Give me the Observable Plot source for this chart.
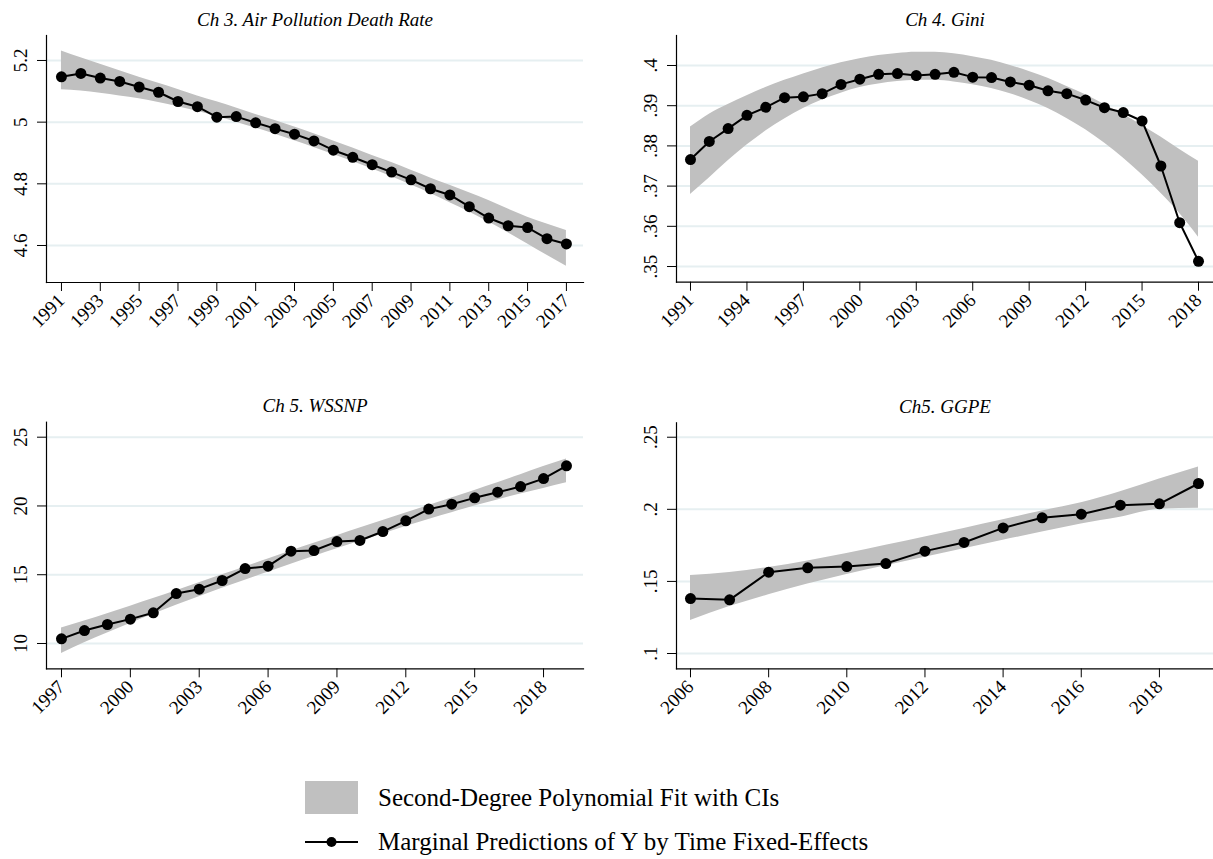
<!DOCTYPE html>
<html>
<head>
<meta charset="utf-8">
<script src="https://cdn.jsdelivr.net/npm/d3@7"></script>
<script src="https://cdn.jsdelivr.net/npm/@observablehq/plot@0.6"></script>
<style>
  html, body { margin: 0; padding: 0; background: #fff; }
  #root { position: relative; width: 1213px; height: 859px; overflow: hidden; background: #fff; font-family: "Liberation Serif", "Times New Roman", serif; }
  .panel { position: absolute; }
  .legend-row { position: absolute; left: 300px; height: 40px; display: flex; align-items: center; font-size: 25px; color: #000; }
</style>
</head>
<body>
<div id="root"></div>
<script>
// ---------------- Data ----------------
// Ch 3. Air Pollution Death Rate
const airYears = [1991,1992,1993,1994,1995,1996,1997,1998,1999,2000,2001,2002,2003,2004,2005,2006,2007,2008,2009,2010,2011,2012,2013,2014,2015,2016,2017];
const airValues = [5.147,5.158,5.143,5.132,5.114,5.097,5.067,5.050,5.016,5.018,4.998,4.979,4.961,4.939,4.909,4.886,4.862,4.838,4.813,4.784,4.764,4.726,4.689,4.664,4.658,4.622,4.605];
const airLo = [5.105,5.101,5.094,5.085,5.076,5.064,5.050,5.035,5.018,5.000,4.981,4.961,4.940,4.918,4.895,4.872,4.848,4.823,4.796,4.769,4.739,4.709,4.676,4.641,4.605,4.568,4.533];
const airHi = [5.231,5.209,5.188,5.167,5.146,5.126,5.106,5.085,5.066,5.046,5.025,5.005,4.984,4.962,4.939,4.916,4.892,4.869,4.844,4.819,4.795,4.771,4.746,4.718,4.692,4.670,4.649];
const airXTicks = [1991,1993,1995,1997,1999,2001,2003,2005,2007,2009,2011,2013,2015,2017];
const airYTicks = [4.6,4.8,5,5.2];

// Ch 4. Gini
const giniYears = [1991,1992,1993,1994,1995,1996,1997,1998,1999,2000,2001,2002,2003,2004,2005,2006,2007,2008,2009,2010,2011,2012,2013,2014,2015,2016,2017,2018];
const giniValues = [0.3766,0.3811,0.3843,0.3876,0.3896,0.3920,0.3922,0.3930,0.3953,0.3966,0.3978,0.3980,0.3975,0.3978,0.3983,0.3971,0.3970,0.3959,0.3951,0.3937,0.3930,0.3914,0.3895,0.3883,0.3862,0.3750,0.3609,0.3513];
const giniLo = [0.3679,0.3720,0.3763,0.3802,0.3837,0.3867,0.3893,0.3914,0.3931,0.3945,0.3954,0.3960,0.3963,0.3963,0.3959,0.3952,0.3943,0.3930,0.3913,0.3893,0.3868,0.3840,0.3807,0.3770,0.3728,0.3682,0.3632,0.3573];
const giniHi = [0.3847,0.3879,0.3903,0.3925,0.3945,0.3963,0.3979,0.3994,0.4007,0.4017,0.4025,0.4030,0.4033,0.4033,0.4029,0.4022,0.4013,0.4000,0.3985,0.3968,0.3948,0.3927,0.3903,0.3878,0.3851,0.3822,0.3791,0.3762];
const giniXTicks = [1991,1994,1997,2000,2003,2006,2009,2012,2015,2018];
const giniYTicks = [0.35,0.36,0.37,0.38,0.39,0.4];

// Ch 5. WSSNP
const wssYears = [1997,1998,1999,2000,2001,2002,2003,2004,2005,2006,2007,2008,2009,2010,2011,2012,2013,2014,2015,2016,2017,2018,2019];
const wssValues = [10.34,10.94,11.38,11.77,12.23,13.63,13.95,14.58,15.45,15.62,16.71,16.76,17.41,17.49,18.14,18.92,19.77,20.13,20.59,21.00,21.41,21.99,22.92];
const wssLo = [9.27,10.05,10.76,11.46,12.13,12.78,13.40,14.01,14.60,15.18,15.76,16.32,16.88,17.43,17.97,18.50,19.02,19.51,19.99,20.44,20.87,21.27,21.68];
const wssHi = [11.13,11.63,12.16,12.71,13.27,13.84,14.41,14.99,15.57,16.14,16.72,17.28,17.84,18.39,18.94,19.48,20.03,20.57,21.13,21.69,22.27,22.86,23.42];
const wssXTicks = [1997,2000,2003,2006,2009,2012,2015,2018];
const wssYTicks = [10,15,20,25];

// Ch5. GGPE
const ggpeYears = [2006,2007,2008,2009,2010,2011,2012,2013,2014,2015,2016,2017,2018,2019];
const ggpeValues = [0.1381,0.1372,0.1564,0.1594,0.1603,0.1624,0.1710,0.1770,0.1871,0.1941,0.1966,0.2029,0.2038,0.2179];
const ggpeLo = [0.1229,0.1326,0.1408,0.1482,0.1548,0.1609,0.1668,0.1727,0.1786,0.1842,0.1899,0.1945,0.2000,0.2008];
const ggpeHi = [0.1541,0.1562,0.1597,0.1642,0.1693,0.1750,0.1808,0.1867,0.1927,0.1988,0.2045,0.2122,0.2210,0.2294];
const ggpeXTicks = [2006,2008,2010,2012,2014,2016,2018];
const ggpeYTicks = [0.1,0.15,0.2,0.25];

const panelTitles = ["Ch 3. Air Pollution Death Rate", "Ch 4. Gini", "Ch 5. WSSNP", "Ch5. GGPE"];
const legendLabels = ["Second-Degree Polynomial Fit with CIs", "Marginal Predictions of Y by Time Fixed-Effects"];

// ---------------- Drawing ----------------
const FONT = "'Liberation Serif', 'Times New Roman', Times, serif";
const noLeadZero = d => String(+d.toFixed(4)).replace(/^0\./, ".");

function makePanel(o) {
  const rows = o.years.map((year, i) => ({year, v: o.values[i], lo: o.lo[i], hi: o.hi[i]}));
  return Plot.plot({
    width: o.width,
    height: o.height,
    marginLeft: o.ml,
    marginRight: o.mr,
    marginTop: o.mt,
    marginBottom: o.mb,
    style: {fontFamily: FONT, fontSize: "19px", color: "#000", background: "transparent", overflow: "visible"},
    x: {domain: o.xDomain},
    y: {domain: o.yDomain},
    marks: [
      Plot.gridY({ticks: o.yTicks, stroke: "#e6eff1", strokeOpacity: 1, strokeWidth: 2}),
      Plot.areaY(rows, {x: "year", y1: "lo", y2: "hi", fill: "#c0c0c0", curve: "monotone-x"}),
      Plot.line(rows, {x: "year", y: "v", stroke: "#000", strokeWidth: 2}),
      Plot.dot(rows, {x: "year", y: "v", r: 5.5, fill: "#000", stroke: "none"}),
      Plot.axisX({ticks: o.xTicks, tickFormat: d => String(d), tickRotate: -45, tickSize: 9, tickPadding: 6, label: null, fontSize: 19}),
      Plot.axisY({ticks: o.yTicks, tickFormat: o.yFormat, tickRotate: -90, tickSize: 9, tickPadding: 11, label: null, fontSize: 19}),
      Plot.frame({anchor: "left", stroke: "#000", strokeWidth: 1.2}),
      Plot.frame({anchor: "bottom", stroke: "#000", strokeWidth: 1.2}),
      Plot.text([o.title], {frameAnchor: "top", dy: -10, lineAnchor: "bottom", fontStyle: "italic", fontSize: 19, fill: "#000"})
    ]
  });
}

const root = document.getElementById("root");
function place(el, left, top) {
  const wrap = document.createElement("div");
  wrap.className = "panel";
  wrap.style.left = left + "px";
  wrap.style.top = top + "px";
  wrap.appendChild(el);
  root.appendChild(wrap);
}

place(makePanel({
  years: airYears, values: airValues, lo: airLo, hi: airHi,
  xDomain: [1990.23, 2017.88], yDomain: [4.48, 5.281],
  xTicks: airXTicks, yTicks: airYTicks, yFormat: d => String(d),
  title: panelTitles[0], width: 600, height: 345, ml: 46, mr: 17, mt: 35, mb: 63
}), 0, 0);

place(makePanel({
  years: giniYears, values: giniValues, lo: giniLo, hi: giniHi,
  xDomain: [1990.256, 2018.797], yDomain: [0.3461, 0.40746],
  xTicks: giniXTicks, yTicks: giniYTicks, yFormat: noLeadZero,
  title: panelTitles[1], width: 613, height: 345, ml: 76, mr: 0, mt: 35, mb: 63.3
}), 600, 0);

place(makePanel({
  years: wssYears, values: wssValues, lo: wssLo, hi: wssHi,
  xDomain: [1996.347, 2019.741], yDomain: [8.16, 26.09],
  xTicks: wssXTicks, yTicks: wssYTicks, yFormat: d => String(d),
  title: panelTitles[2], width: 600, height: 345, ml: 46, mr: 17, mt: 31.7, mb: 66.7
}), 0, 390);

place(makePanel({
  years: ggpeYears, values: ggpeValues, lo: ggpeLo, hi: ggpeHi,
  xDomain: [2005.642, 2019.384], yDomain: [0.0894, 0.26],
  xTicks: ggpeXTicks, yTicks: ggpeYTicks, yFormat: noLeadZero,
  title: panelTitles[3], width: 613, height: 345, ml: 76, mr: 0, mt: 32.3, mb: 66.7
}), 600, 390);

// ---------------- Legend ----------------
const ns = "http://www.w3.org/2000/svg";
function legendRow(top, kind, label) {
  const row = document.createElement("div");
  row.className = "legend-row";
  row.style.top = top + "px";
  const svg = document.createElementNS(ns, "svg");
  svg.setAttribute("width", "60");
  svg.setAttribute("height", "40");
  svg.style.marginRight = "18px";
  if (kind === "band") {
    const r = document.createElementNS(ns, "rect");
    r.setAttribute("x", 5); r.setAttribute("y", 3); r.setAttribute("width", 53); r.setAttribute("height", 33);
    r.setAttribute("fill", "#c0c0c0");
    svg.appendChild(r);
  } else {
    const l = document.createElementNS(ns, "line");
    l.setAttribute("x1", 5); l.setAttribute("x2", 58); l.setAttribute("y1", 20); l.setAttribute("y2", 20);
    l.setAttribute("stroke", "#000"); l.setAttribute("stroke-width", 2);
    const c = document.createElementNS(ns, "circle");
    c.setAttribute("cx", 31.5); c.setAttribute("cy", 20); c.setAttribute("r", 5); c.setAttribute("fill", "#000");
    svg.appendChild(l); svg.appendChild(c);
  }
  row.appendChild(svg);
  const span = document.createElement("span");
  span.textContent = label;
  row.appendChild(span);
  root.appendChild(row);
}
legendRow(778, "band", legendLabels[0]);
legendRow(822, "line", legendLabels[1]);
</script>
</body>
</html>
